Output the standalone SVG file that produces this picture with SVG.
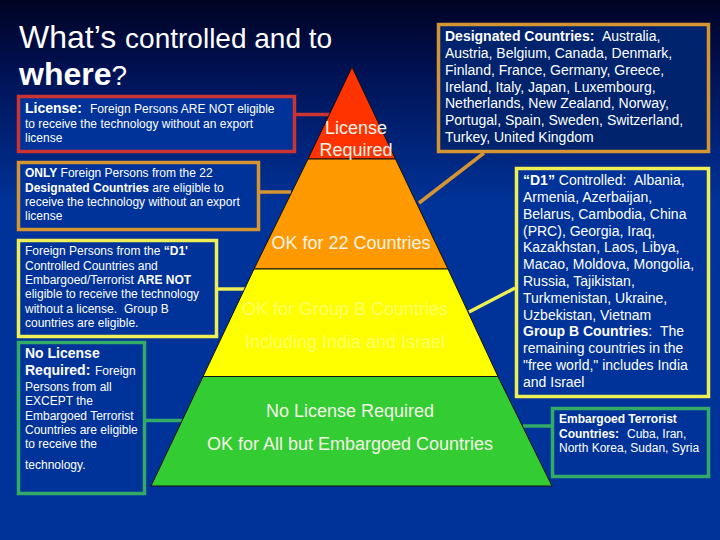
<svg xmlns="http://www.w3.org/2000/svg" width="720" height="540" viewBox="0 0 720 540">
<style>
text{font-family:"Liberation Sans",Arial,sans-serif;fill:#fff}
.box{fill:#003399}
.dk{fill:#00236e}
.r{stroke:#cc3333}.o{stroke:#d69533}.y{stroke:#eeee55}.g{stroke:#33aa66}
.box,.dk,.c{stroke-width:3.5}
.c{fill:none}
.t1{font-size:12px}
.t2{font-size:14px}
.t3{font-size:12px}
.h{font-size:14px;font-weight:bold}
.p{font-size:18px;text-anchor:middle;fill:#f4f4e8}
.py{fill:#ffff66}
.b{font-weight:bold}
.lay{stroke:#111;stroke-width:1}
</style>
<defs>
<linearGradient id="bg" x1="0" y1="0" x2="0" y2="1"><stop offset="0" stop-color="#000322"/><stop offset=".12" stop-color="#001050"/><stop offset=".38" stop-color="#003399"/><stop offset="1" stop-color="#003399"/></linearGradient>
</defs>
<rect width="720" height="540" fill="url(#bg)"/>
<g id="title">
<text x="19" y="48" font-size="32">What’s <tspan font-size="28">controlled and to</tspan></text>
<text x="19" y="85" font-size="32" class="b">where<tspan font-size="28" font-weight="normal">?</tspan></text>
</g>
<g id="connectors">
<path class="c r" d="M296 114.500H330"/>
<path class="c o" d="M260 192H291"/>
<path class="c y" d="M218 289H245"/>
<path class="c g" d="M146 420.500H182"/>
<path class="c o" d="M484 153L419 203"/>
<path class="c y" d="M515 288L469 312"/>
<path class="c g" d="M551 426H523"/>
</g>
<g id="pyramid">
<path id="layer-red" class="lay" fill="#ff3300" d="M352 67L395.500 159H308Z"/>
<path id="layer-orange" class="lay" fill="#ff9900" d="M308 159H395.500L448 269H254Z"/>
<path id="layer-yellow" class="lay" fill="#ffff00" d="M254 269H448L498 376.500H203Z"/>
<path id="layer-green" class="lay" fill="#33cc33" d="M203 376.500H498L552 486H151Z"/>
<text class="p" x="356" y="134">License</text>
<text class="p" x="356" y="156">Required</text>
<text class="p" x="351" y="249">OK for 22 Countries</text>
<text class="p py" x="345" y="315">OK for Group B Countries</text>
<text class="p py" x="345" y="348">Including India and Israel</text>
<text class="p" x="350" y="417">No License Required</text>
<text class="p" x="350" y="450">OK for All but Embargoed Countries</text>
</g>
<g id="box-license">
<rect class="box r" x="18.500" y="96.500" width="276" height="55"/>
<text class="h" x="25" y="113">License:</text>
<text class="t1" x="90" y="113">Foreign Persons ARE NOT eligible</text>
<text class="t1" x="25" y="128">to receive the technology without an export</text>
<text class="t1" x="25" y="142">license</text>
</g>
<g id="box-only">
<rect class="box o" x="18.500" y="162.500" width="240" height="67"/>
<text class="t1" x="25" y="177"><tspan class="b">ONLY</tspan> Foreign Persons from the 22</text>
<text class="t1" x="25" y="192"><tspan class="b">Designated Countries</tspan> are eligible to</text>
<text class="t1" x="25" y="206">receive the technology without an export</text>
<text class="t1" x="25" y="220">license</text>
</g>
<g id="box-d1-text">
<rect class="box y" x="18.500" y="240.500" width="198" height="96"/>
<text class="t1" x="25" y="255">Foreign Persons from the <tspan class="b">“D1'</tspan></text>
<text class="t1" x="25" y="270">Controlled Countries and</text>
<text class="t1" x="25" y="284">Embargoed/Terrorist <tspan class="b">ARE NOT</tspan></text>
<text class="t1" x="25" y="298">eligible to receive the technology</text>
<text class="t1" x="25" y="313">without a license.</text>
<text class="t1" x="124" y="313">Group B</text>
<text class="t1" x="25" y="327">countries are eligible.</text>
</g>
<g id="box-no-license">
<rect class="box g" x="18.500" y="342.500" width="126" height="151"/>
<text class="h" x="25" y="358">No License</text>
<text class="h" x="25" y="375">Required:</text>
<text class="t1" x="95" y="375">Foreign</text>
<text class="t1" x="25" y="391">Persons from all</text>
<text class="t1" x="25" y="405">EXCEPT the</text>
<text class="t1" x="25" y="420">Embargoed Terrorist</text>
<text class="t1" x="25" y="434">Countries are eligible</text>
<text class="t1" x="25" y="448">to receive the</text>
<text class="t1" x="25" y="469">technology.</text>
</g>
<g id="box-designated">
<rect class="dk o" x="438.500" y="24.500" width="270" height="127"/>
<text class="t2 b" x="445" y="41">Designated Countries:</text>
<text class="t2" x="602" y="41">Australia,</text>
<text class="t2" x="445" y="58">Austria, Belgium, Canada, Denmark,</text>
<text class="t2" x="445" y="75">Finland, France, Germany, Greece,</text>
<text class="t2" x="445" y="92">Ireland, Italy, Japan, Luxembourg,</text>
<text class="t2" x="445" y="108">Netherlands, New Zealand, Norway,</text>
<text class="t2" x="445" y="125">Portugal, Spain, Sweden, Switzerland,</text>
<text class="t2" x="445" y="142">Turkey, United Kingdom</text>
</g>
<g id="box-d1">
<rect class="box y" x="516.500" y="168.500" width="192" height="228"/>
<text class="t2" x="523" y="185"><tspan class="b">“D1”</tspan> Controlled:</text>
<text class="t2" x="634" y="185">Albania,</text>
<text class="t2" x="523" y="202">Armenia, Azerbaijan,</text>
<text class="t2" x="523" y="219">Belarus, Cambodia, China</text>
<text class="t2" x="523" y="236">(PRC), Georgia, Iraq,</text>
<text class="t2" x="523" y="252">Kazakhstan, Laos, Libya,</text>
<text class="t2" x="523" y="269">Macao, Moldova, Mongolia,</text>
<text class="t2" x="523" y="286">Russia, Tajikistan,</text>
<text class="t2" x="523" y="303">Turkmenistan, Ukraine,</text>
<text class="t2" x="523" y="320">Uzbekistan, Vietnam</text>
<text class="t2" x="523" y="336"><tspan class="b">Group B Countries</tspan>:</text>
<text class="t2" x="660" y="336">The</text>
<text class="t2" x="523" y="353">remaining countries in the</text>
<text class="t2" x="523" y="370">"free world," includes India</text>
<text class="t2" x="523" y="387">and Israel</text>
</g>
<g id="box-embargoed">
<rect class="box g" x="552.500" y="408.500" width="156" height="68"/>
<text class="t3 b" x="559" y="423">Embargoed Terrorist</text>
<text class="t3 b" x="559" y="438">Countries:</text>
<text class="t3" x="627" y="438">Cuba, Iran,</text>
<text class="t3" x="559" y="452">North Korea, Sudan, Syria</text>
</g>
</svg>
